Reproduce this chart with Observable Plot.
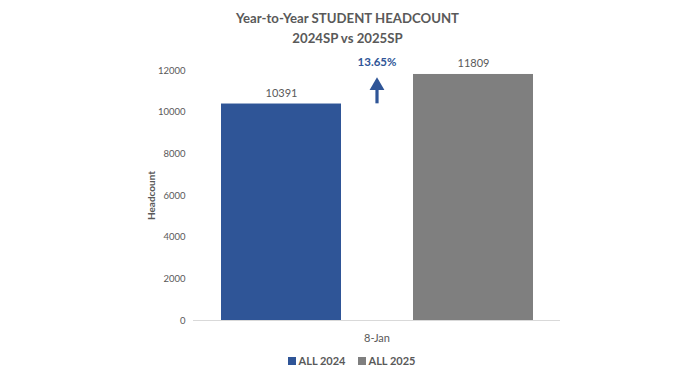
<!DOCTYPE html>
<html><head><meta charset="utf-8">
<script src="https://cdn.jsdelivr.net/npm/d3@7"></script>
<script src="https://cdn.jsdelivr.net/npm/@observablehq/plot@0.6"></script>
<style>
body{margin:0;background:#fff;font-family:Lato,"Open Sans",sans-serif;width:695px;height:370px;overflow:hidden}
#title{text-align:center;color:#595959;font-weight:bold;font-size:13.2px;line-height:20px;padding-top:8px;height:40px}
#legend{display:flex;justify-content:center;gap:12px;color:#595959;font-weight:bold;font-size:11px;margin-top:6px;padding-left:8px}
#legend span.sw{display:inline-block;width:8px;height:8px;margin-right:3px;vertical-align:0px}
svg g[aria-label="y-axis label"] text{font-weight:bold;font-size:10px}
svg g[aria-label="fx-axis tick label"] text{font-size:11px}
</style></head>
<body>
<div id="title">Year-to-Year STUDENT HEADCOUNT<br>2024SP vs 2025SP</div>
<div id="chart"></div>
<div id="legend"></div>
<script>
const dates = ["8-Jan"];
const series = ["ALL 2024", "ALL 2025"];
const headcount = [10391, 11809];
const colors = ["#2F5597", "#7F7F7F"];
const yTicks = [0, 2000, 4000, 6000, 8000, 10000, 12000];
const arrowFrom = [10400];
const arrowTo = [11520];

const rows = series.map((s, i) => ({date: dates[0], series: s, value: headcount[i]}));
const pct = ((headcount[1] - headcount[0]) / headcount[0] * 100).toFixed(2) + "%";

const plot = Plot.plot({
  width: 695,
  height: 300,
  marginTop: 22,
  marginBottom: 28,
  marginLeft: 193,
  marginRight: 135,
  style: {fontFamily: "Lato, 'Open Sans', sans-serif", fontSize: "9.5px", color: "#595959"},
  fx: {domain: dates, padding: 0, label: null, tickSize: 0, tickPadding: 14, axis: "bottom"},
  x: {domain: series, paddingInner: 0.376, paddingOuter: 0.14, axis: null},
  y: {domain: [0, 12000], ticks: yTicks, tickFormat: d => String(d), tickSize: 0, tickPadding: 8, label: "Headcount", labelAnchor: "center", labelArrow: "none", labelOffset: 46},
  color: {domain: series, range: colors},
  marks: [
    Plot.ruleY([0], {stroke: "#d9d9d9", strokeWidth: 1}),
    Plot.barY(rows, {fx: "date", x: "series", y: "value", fill: "series"}),
    Plot.text(rows, {fx: "date", x: "series", y: "value", text: d => String(d.value), dy: -11, fill: "#595959", fontSize: 11}),
    Plot.ruleX([0], {fx: () => dates[0], x: null, y1: () => arrowFrom[0], y2: () => arrowTo[0] - 300, stroke: "#2F5597", strokeWidth: 3.2}),
    Plot.dot([0], {fx: () => dates[0], y: () => arrowTo[0] - 250, symbol: "triangle", r: 5.5, fill: "#2F5597", stroke: "none"}),
    Plot.text([pct], {fx: () => dates[0], y: () => arrowTo[0], text: d => d, dy: -18, fill: "#2F5597", fontWeight: "bold", fontSize: 11.5})
  ]
});
document.getElementById("chart").appendChild(plot);

const leg = document.getElementById("legend");
series.forEach((s, i) => {
  const el = document.createElement("div");
  el.innerHTML = `<span class="sw" style="background:${colors[i]}"></span>${s}`;
  leg.appendChild(el);
});
</script>
</body></html>
